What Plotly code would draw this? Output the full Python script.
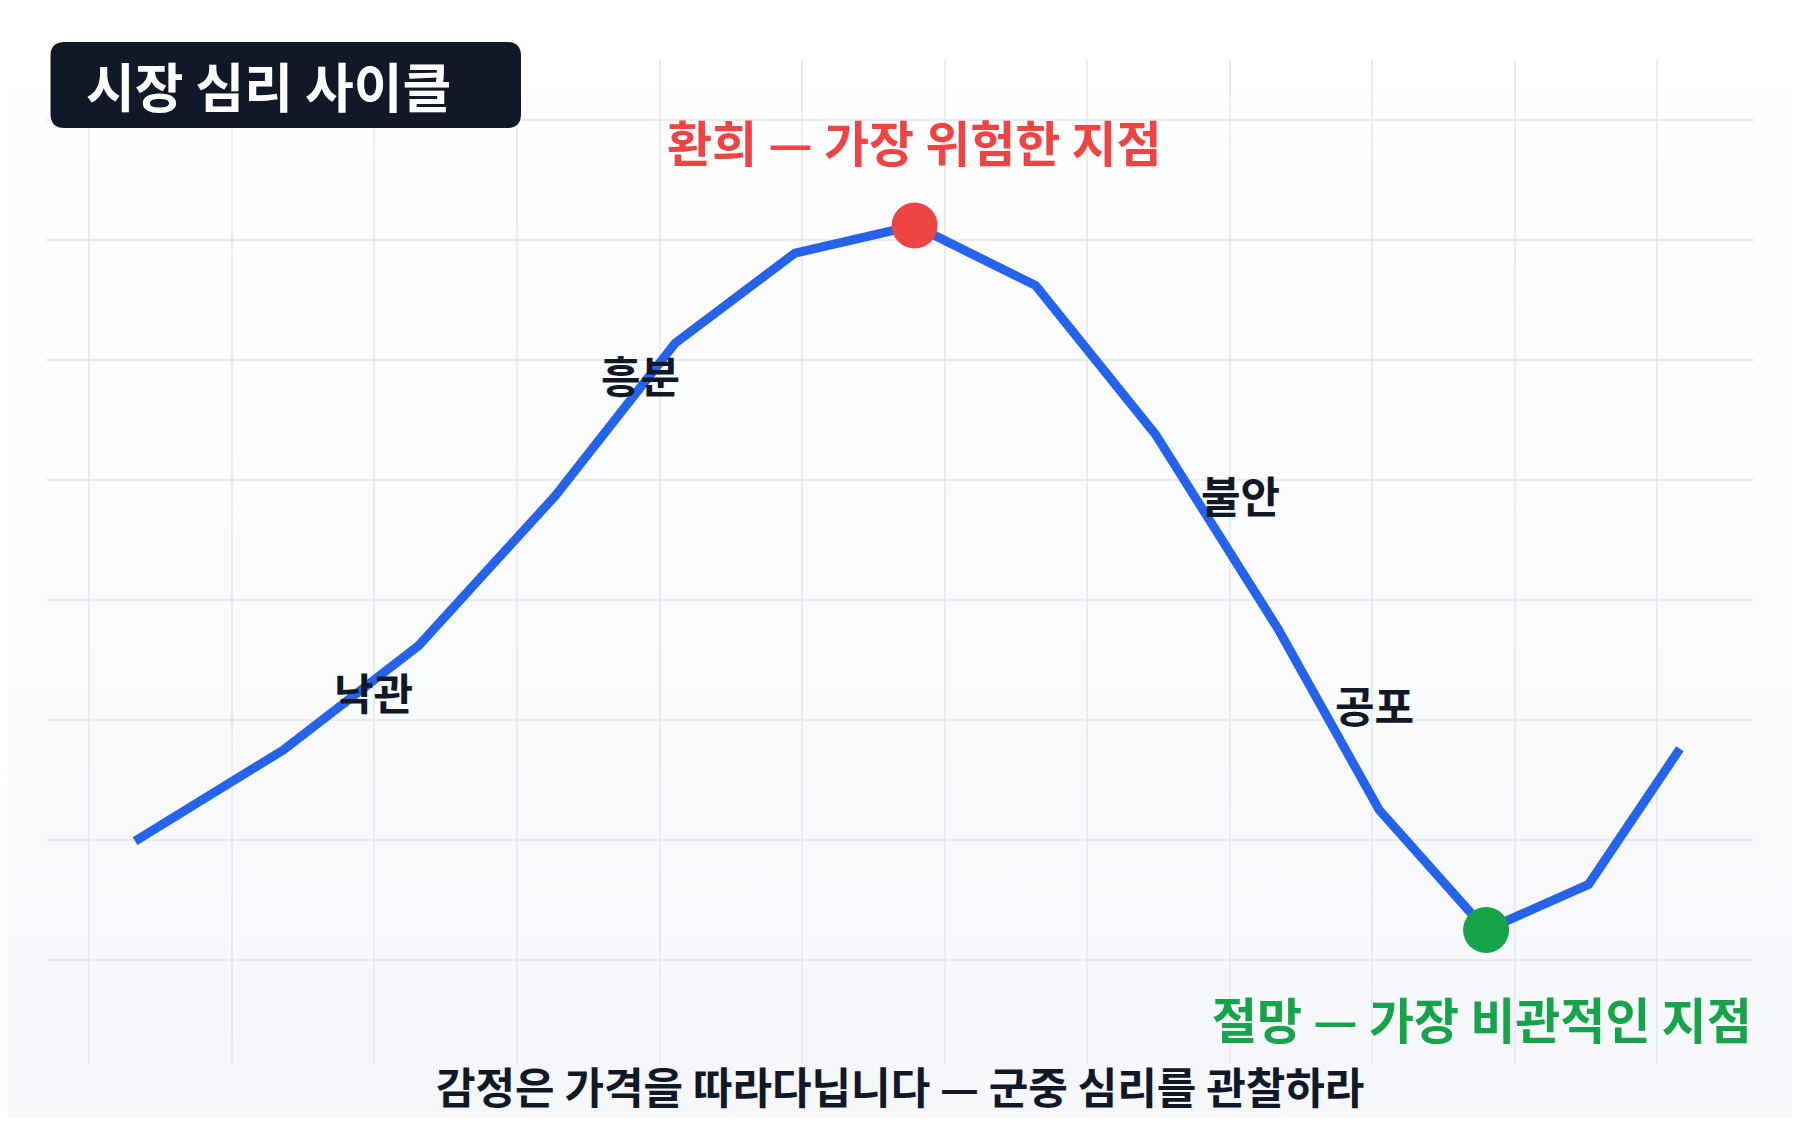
import base64
import plotly.graph_objects as go

# 심리 사이클 데이터 (시간, 심리 지수)
times = [3.2, 13.6, 23.1, 32.7, 41.1, 49.5, 57.9, 66.4, 74.8, 83.4, 90.5, 98.0, 105.2, 111.6]
sentiment = [9.9, 17.5, 26.2, 38.7, 51.4, 58.9, 61.2, 56.2, 43.8, 27.6, 12.5, 2.5, 6.3, 17.6]

# 단계 라벨
phase_labels = ["낙관", "흥분", "불안", "공포"]
phase_x = [19.9, 38.7, 80.8, 90.2]
phase_y = [22.4, 48.8, 38.8, 21.3]

peak_idx = 6
trough_idx = 11

title_text = "시장 심리 사이클"
peak_text = "환희 — 가장 위험한 지점"
trough_text = "절망 — 가장 비관적인 지점"
caption_text = "감정은 가격을 따라다닙니다 — 군중 심리를 관찰하라"

# 페이지 기본 여백(8px)을 고려한 크기
PAGE = 8
W, H = 1800 - 2 * PAGE, 1125 - 2 * PAGE
ML, MR, MT, MB = 38, 38, 52, 53
PW, PH = W - ML - MR, H - MT - MB
FONT = "Noto Sans CJK KR"


def px_x(p):
    # 화면 좌표(px) -> paper 좌표
    return (p - PAGE - ML) / PW


def px_y(p):
    return (PAGE + H - MB - p) / PH


fig = go.Figure()

fig.add_trace(go.Scatter(x=times, y=sentiment, mode="lines",
                         line=dict(color="#2563eb", width=9),
                         hoverinfo="skip"))

# 고점 / 저점 마커
fig.add_trace(go.Scatter(x=[times[peak_idx]], y=[sentiment[peak_idx]], mode="markers",
                         marker=dict(size=46, color="#ef4444", line=dict(width=0))))
fig.add_trace(go.Scatter(x=[times[trough_idx]], y=[sentiment[trough_idx]], mode="markers",
                         marker=dict(size=46, color="#16a34a", line=dict(width=0))))

for label, lx, ly in zip(phase_labels, phase_x, phase_y):
    fig.add_annotation(x=lx, y=ly, text=f"<b>{label}</b>", showarrow=False,
                       xanchor="center", yanchor="middle",
                       font=dict(family=FONT, size=43, color="#111827"))

fig.add_annotation(x=times[peak_idx], y=sentiment[peak_idx], yshift=85,
                   text=f"<b>{peak_text}</b>", showarrow=False,
                   xanchor="center", yanchor="middle",
                   font=dict(family=FONT, size=49, color="#ef4444"))

fig.add_annotation(xref="paper", x=1, y=sentiment[trough_idx], yshift=-88,
                   text=f"<b>{trough_text}</b>", showarrow=False,
                   xanchor="right", yanchor="middle",
                   font=dict(family=FONT, size=49, color="#16a34a"))

fig.add_annotation(xref="paper", yref="paper", x=0.5, y=px_y(1085),
                   text=f"<b>{caption_text}</b>", showarrow=False,
                   xanchor="center", yanchor="middle",
                   font=dict(family=FONT, size=43, color="#111827"))

# 제목 박스 (둥근 모서리)
bx0, bx1, by0, by1, r = px_x(50.5), px_x(521), px_y(128), px_y(42), 14
rx, ry = r / PW, r / PH
path = (f"M {bx0 + rx},{by0} L {bx1 - rx},{by0} Q {bx1},{by0} {bx1},{by0 + ry} "
        f"L {bx1},{by1 - ry} Q {bx1},{by1} {bx1 - rx},{by1} "
        f"L {bx0 + rx},{by1} Q {bx0},{by1} {bx0},{by1 - ry} "
        f"L {bx0},{by0 + ry} Q {bx0},{by0} {bx0 + rx},{by0} Z")
fig.add_shape(type="path", xref="paper", yref="paper", path=path,
              fillcolor="#111827", line=dict(width=0))
fig.add_annotation(xref="paper", yref="paper", x=px_x(84), y=px_y(85),
                   text=f"<b>{title_text}</b>", showarrow=False,
                   xanchor="left", yanchor="middle",
                   font=dict(family=FONT, size=53, color="#ffffff"))

# 배경 그라데이션
svg = ('<svg xmlns="http://www.w3.org/2000/svg" width="10" height="10" preserveAspectRatio="none">'
       '<defs><linearGradient id="g" x1="0" y1="0" x2="0" y2="1">'
       '<stop offset="0" stop-color="#ffffff"/><stop offset="1" stop-color="#f5f7fa"/>'
       '</linearGradient></defs><rect width="10" height="10" fill="url(#g)"/></svg>')
src = "data:image/svg+xml;base64," + base64.b64encode(svg.encode()).decode()
fig.add_layout_image(source=src, xref="paper", yref="paper",
                     x=-ML / PW, y=1 + MT / PH, sizex=W / PW, sizey=H / PH,
                     xanchor="left", yanchor="top", sizing="stretch", layer="below")

fig.update_xaxes(range=[-3.05, 116.8], tick0=0, dtick=10, showticklabels=False,
                 showgrid=True, gridcolor="#e8ebf0", gridwidth=1.5, zeroline=False)
fig.update_yaxes(range=[-8.67, 75], tick0=0, dtick=10, showticklabels=False,
                 showgrid=True, gridcolor="#e8ebf0", gridwidth=1.5, zeroline=False)

fig.update_layout(width=W, height=H, showlegend=False,
                  margin=dict(l=ML, r=MR, t=MT, b=MB),
                  paper_bgcolor="#ffffff", plot_bgcolor="rgba(0,0,0,0)",
                  font=dict(family=FONT))

fig.write_html("out.html")
